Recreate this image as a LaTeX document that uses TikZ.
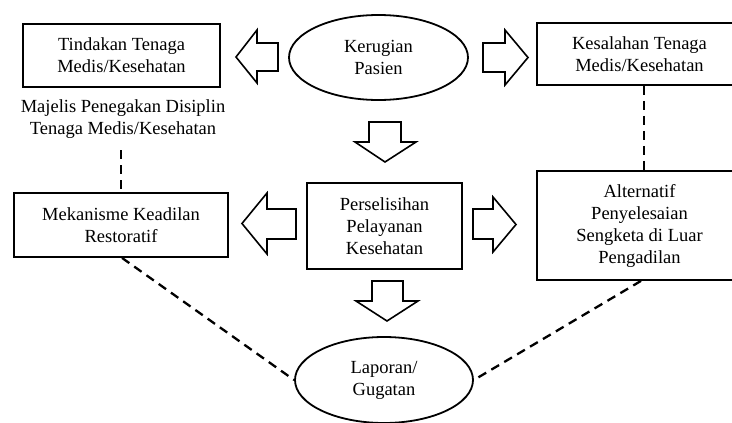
\documentclass[tikz,border=0pt]{standalone}
\usepackage{fontspec}
\setmainfont{Liberation Serif}
\usetikzlibrary{shapes.geometric}
\tikzset{
  every node/.style={font=\fontsize{18.5}{22}\selectfont, align=center, text=black},
  box/.style={draw, line width=1.8pt, rectangle, inner sep=0pt},
  oval/.style={draw, line width=1.8pt, ellipse, inner sep=0pt, minimum width=179pt, minimum height=85pt},
  blockarrow/.style={draw, line width=1.6pt, line join=miter, fill=white},
  dline/.style={line width=2.3pt, dash pattern=on 9pt off 6pt}
}
\begin{document}
\begin{tikzpicture}[x=1pt,y=-1pt]
\useasboundingbox (0,0) rectangle (732,423);
\clip (0,0) rectangle (732,423);
% nodes
\node[oval] (ker) at (378.5,57.5) {Kerugian\\Pasien};
\node[box, minimum width=197pt, minimum height=63pt] (tind) at (121.5,55.5) {Tindakan Tenaga\\Medis/Kesehatan};
\node[box, minimum width=205pt, minimum height=62pt] (kes) at (639.5,54) {Kesalahan Tenaga\\Medis/Kesehatan};
\node (maj) at (123,119) {Majelis Penegakan Disiplin\\Tenaga Medis/Kesehatan};
\node[box, minimum width=214pt, minimum height=64pt] (mek) at (121,225) {Mekanisme Keadilan\\Restoratif};
\node[box, minimum width=155pt, minimum height=86pt] (pers) at (384.5,226) {Perselisihan\\Pelayanan\\Kesehatan};
\node[box, minimum width=205pt, minimum height=109pt] (alt) at (639.5,225.5) {Alternatif\\Penyelesaian\\Sengketa di Luar\\Pengadilan};
\node[oval, minimum width=178pt, minimum height=86pt] (lap) at (384,380) {Laporan/\\Gugatan};
% block arrows
\draw[blockarrow] (278,43) -- (257,43) -- (257,30) -- (236,57) -- (257,83) -- (257,71) -- (278,71) -- cycle;
\draw[blockarrow] (483,43) -- (505,43) -- (505,30) -- (528,57.5) -- (505,85) -- (505,72) -- (483,72) -- cycle;
\draw[blockarrow] (369,122) -- (369,142) -- (355,142) -- (385,162) -- (416,142) -- (401,142) -- (401,122) -- cycle;
\draw[blockarrow] (296,209) -- (267,209) -- (267,193) -- (242,223.5) -- (267,254) -- (267,239) -- (296,239) -- cycle;
\draw[blockarrow] (473,209) -- (493,209) -- (493,197) -- (516,224.5) -- (493,252) -- (493,239) -- (473,239) -- cycle;
\draw[blockarrow] (372,281) -- (372,301) -- (356,301) -- (387,321) -- (418,301) -- (403,301) -- (403,281) -- cycle;
% dashed connectors
\coordinate (majend) at (121,150);
\draw[dline] (majend) -- (mek.north -| majend);
\draw[dline] (kes.south -| 644,0) -- (alt.north -| 644,0);
\draw[dline] (mek.south -| 122,0) -- (lap.west);
\draw[dline] (alt.south -| 641,0) -- (lap.east);
\end{tikzpicture}
\end{document}
